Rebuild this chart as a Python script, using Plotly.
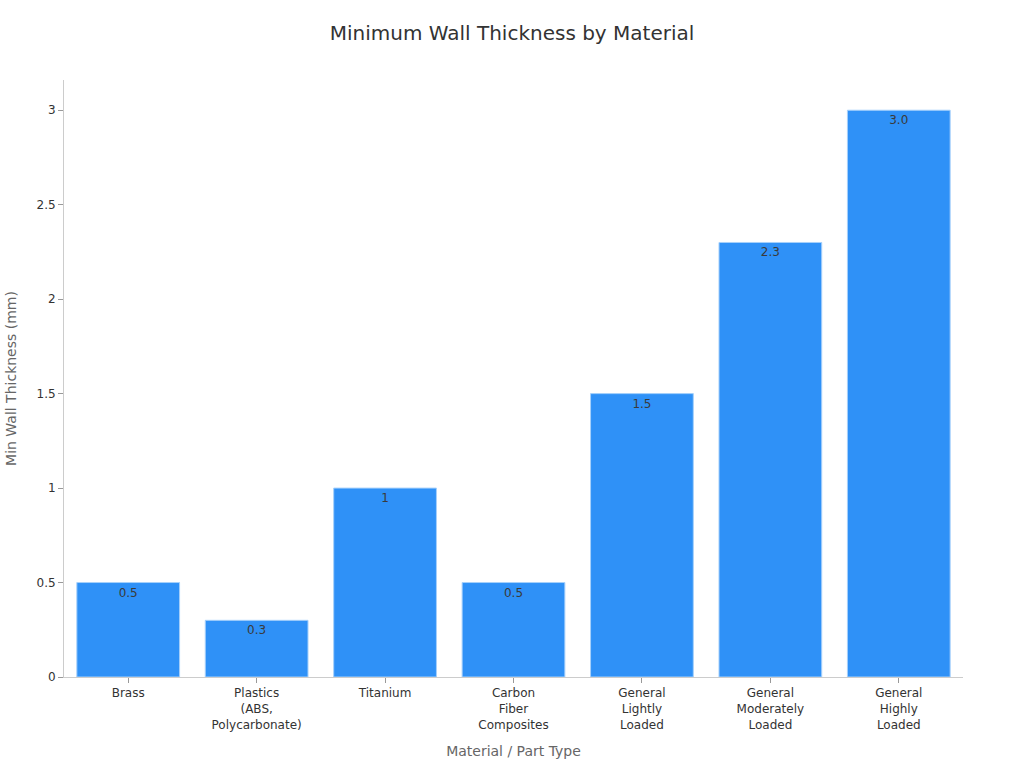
import plotly.graph_objects as go

# data
materials = [
    "Brass",
    "Plastics<br>(ABS,<br>Polycarbonate)",
    "Titanium",
    "Carbon<br>Fiber<br>Composites",
    "General<br>Lightly<br>Loaded",
    "General<br>Moderately<br>Loaded",
    "General<br>Highly<br>Loaded",
]
min_thickness = [0.5, 0.3, 1.0, 0.5, 1.5, 2.3, 3.0]
bar_labels = ["0.5", "0.3", "1", "0.5", "1.5", "2.3", "3.0"]
y_ticks = [0, 0.5, 1, 1.5, 2, 2.5, 3]

fig = go.Figure(
    go.Bar(
        x=materials,
        y=min_thickness,
        text=bar_labels,
        textposition="inside",
        insidetextanchor="end",
        textfont=dict(color="#3a3a3a", size=12),
        marker=dict(color="#2f91f7", line=dict(color="#a6d0fb", width=1)),
    )
)

fig.update_layout(
    width=1024,
    height=768,
    font=dict(family="DejaVu Sans", color="#333333", size=12),
    title=dict(text="Minimum Wall Thickness by Material", x=0.5, y=1 - 33 / 768,
               xanchor="center", yanchor="middle", font=dict(size=20, color="#333333")),
    plot_bgcolor="white",
    paper_bgcolor="white",
    margin=dict(l=64, r=61, t=80, b=91),
    bargap=0.2,
    showlegend=False,
)
fig.update_xaxes(
    title=dict(text="Material / Part Type", font=dict(size=14, color="#666666"), standoff=15),
    automargin=False,
    showline=True, linecolor="#cccccc", linewidth=1,
    ticks="outside", ticklen=5, tickcolor="#999999",
    tickfont=dict(size=12, color="#333333"),
    showgrid=False,
)
fig.update_yaxes(
    title=dict(text="Min Wall Thickness (mm)", font=dict(size=14, color="#666666"), standoff=16),
    automargin=False,
    range=[0, 3.16],
    tickvals=y_ticks,
    showline=True, linecolor="#cccccc", linewidth=1,
    ticks="outside", ticklen=5, tickcolor="#999999",
    tickfont=dict(size=12, color="#333333"),
    showgrid=False, zeroline=False,
)

# drop the default page margin so the figure sits at the window's corner
fig.write_html("out.html", config={"displayModeBar": False},
               post_script="document.body.style.margin='0';")
